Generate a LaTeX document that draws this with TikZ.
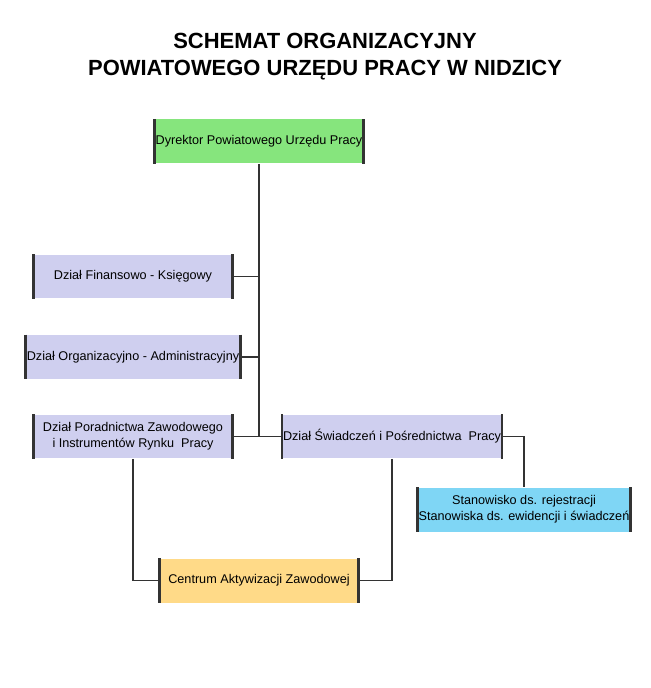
\documentclass[tikz,border=0pt]{standalone}
\usepackage{fontspec}
\setmainfont{Liberation Sans}
\usetikzlibrary{positioning}
\definecolor{zielony}{HTML}{86E57D}
\definecolor{fiolet}{HTML}{CFCFEF}
\definecolor{niebieski}{HTML}{7FD6F5}
\definecolor{zolty}{HTML}{FFDA88}
\tikzset{
  Dzial/.style={fill=#1, minimum width=3.96cm, minimum height=0.88cm, inner sep=0.5pt,
    align=center, font=\fontsize{7.2}{9}\selectfont},
  Boki/.style={draw=black!80, line width=1.4pt},
  Linia/.style={draw=black!80, line width=0.8pt}
}
\begin{document}
\begin{tikzpicture}[x=0.02cm, y=-0.02cm]
\useasboundingbox (0,0) rectangle (650,688);

% Tytul
\node[font=\bfseries\fontsize{12.5}{15.5}\selectfont, align=center] (tytul) at (325,57)
  {SCHEMAT ORGANIZACYJNY\\POWIATOWEGO URZĘDU PRACY W NIDZICY};

% Komorki
\node[Dzial=zielony] (dyr) at (259,141.5) {Dyrektor Powiatowego Urzędu Pracy};
\node[Dzial=fiolet] (fin) at (133,276.5) {Dział Finansowo - Księgowy};
\node[Dzial=fiolet] (org) at (133,357) {Dział Organizacyjno - Administracyjny};
\node[Dzial=fiolet] (por) at (133,436.5) {Dział Poradnictwa Zawodowego\\i Instrumentów Rynku\ \ Pracy};
\node[Dzial=fiolet] (swi) at (392,436.5) {Dział Świadczeń i Pośrednictwa\ \ Pracy};
\node[Dzial=niebieski] (sta) at (524,509.5) {Stanowisko ds. rejestracji\\Stanowiska ds. ewidencji i świadczeń};
\node[Dzial=zolty] (cen) at (259,580.5) {Centrum Aktywizacji Zawodowej};

% boczne krawedzie
\foreach \n in {dyr,fin,org,por,swi,sta,cen}
  \draw[Boki] (\n.north west) -- (\n.south west) (\n.north east) -- (\n.south east);

% Polaczenia
\coordinate (pien) at (259,436.5);
\draw[Linia] (dyr.south) -- (pien);
\draw[Linia] (fin.east) -- (fin.east -| pien);
\draw[Linia] (org.east) -- (org.east -| pien);
\draw[Linia] (por.east) -- (swi.west);
\draw[Linia] (swi.east) -| (sta.north);
\draw[Linia] (por.south) |- (cen.west);
\draw[Linia] (swi.south) |- (cen.east);
\end{tikzpicture}
\end{document}
